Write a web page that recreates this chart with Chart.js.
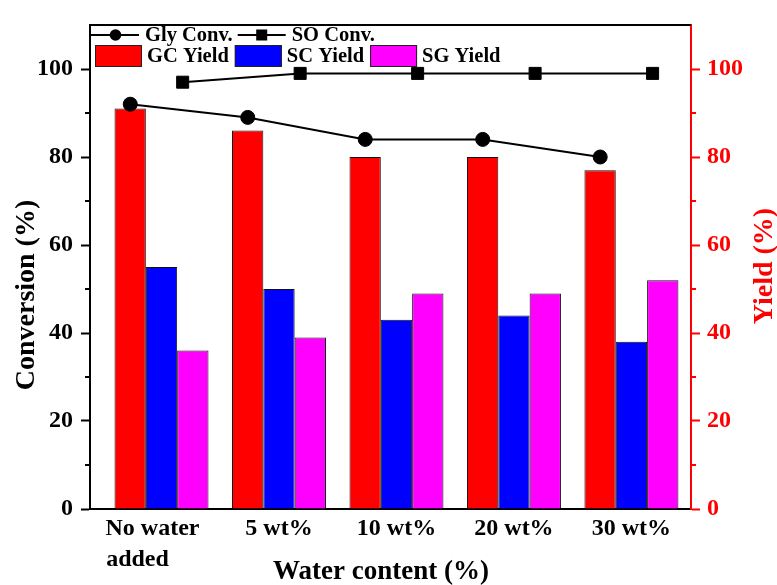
<!DOCTYPE html>
<html><head><meta charset="utf-8">
<script src="https://cdn.jsdelivr.net/npm/chart.js@4/dist/chart.umd.min.js"></script>
<style>html,body{margin:0;padding:0;background:#fff}#wrap{width:777px;height:585px}</style>
</head><body><div id="wrap"><canvas id="c" width="777" height="585"></canvas></div>
<script>
// ---- data ----
const categories = [["No water   ", "added        "], "5 wt%", "10 wt%", "20 wt%", "30 wt%"];
const gcYield = [91, 86, 80, 80, 77];
const scYield = [55, 50, 43, 44, 38];
const sgYield = [36, 39, 49, 49, 52];
const glyConv = [92, 89, 84, 84, 80];
const soConv  = [97, 99, 99, 99, 99];
const yTickValues = [0, 20, 40, 60, 80, 100];
const yMinorValues = [10, 30, 50, 70, 90];

// ---- layout / style constants ----
const GLY_SHIFT = -0.266;   // position of Gly markers within a group (category units)
const SO_SHIFT = 0.18;      // position of SO markers within a group
const FONT = "'Liberation Serif', 'Times New Roman', serif";
const RED = '#ff0000', BLUE = '#0000ff', MAG = '#ff00ff';

const isMajor = v => yTickValues.includes(v);

function barSet(label, data, color) {
  return {
    type: 'bar', label, data: data.map((v, i) => ({x: i, y: v})),
    backgroundColor: color, borderColor: '#111', borderWidth: 1, borderSkipped: 'start',
    categoryPercentage: 0.8, barPercentage: 1.0, yAxisID: 'y1', order: 2
  };
}
function lineSet(label, data, shift, style, radius) {
  return {
    type: 'line', label, data: data.map((v, i) => ({x: i + shift, y: v})),
    borderColor: '#000', borderWidth: 2, backgroundColor: '#000',
    pointStyle: style, pointRadius: radius, pointHoverRadius: radius,
    pointBackgroundColor: '#000', pointBorderColor: '#000', pointBorderWidth: 1,
    tension: 0, fill: false, yAxisID: 'y', order: 0
  };
}

const datasets = [
  barSet('GC Yield', gcYield, RED),
  barSet('SC Yield', scYield, BLUE),
  barSet('SG Yield', sgYield, MAG),
  lineSet('Gly Conv.', glyConv, GLY_SHIFT, 'circle', 7),
  lineSet('SO Conv.', soConv, SO_SHIFT, 'rect', 8.5)
];

const tickFont = {family: FONT, size: 24, weight: 'bold'};

const decorPlugin = {
  id: 'decor',
  afterDraw(chart) {
    const ctx = chart.ctx, a = chart.chartArea;
    ctx.save();
    // top frame line
    ctx.strokeStyle = '#000'; ctx.lineWidth = 2;
    ctx.beginPath(); ctx.moveTo(a.left - 1, a.top); ctx.lineTo(a.right, a.top); ctx.stroke();
    // minor ticks
    const yL = chart.scales.y, yR = chart.scales.y1;
    yMinorValues.forEach(v => {
      let p = yL.getPixelForValue(v);
      ctx.strokeStyle = '#000'; ctx.beginPath(); ctx.moveTo(a.left - 5, p); ctx.lineTo(a.left, p); ctx.stroke();
      p = yR.getPixelForValue(v);
      ctx.strokeStyle = RED; ctx.beginPath(); ctx.moveTo(a.right, p); ctx.lineTo(a.right + 5, p); ctx.stroke();
    });
    // axis titles
    ctx.font = "bold 28px " + FONT;
    ctx.textAlign = 'center'; ctx.textBaseline = 'middle';
    ctx.fillStyle = '#000';
    ctx.save(); ctx.translate(27, 295); ctx.rotate(-Math.PI / 2); ctx.fillText('Conversion (%)', 0, 0); ctx.restore();
    ctx.fillStyle = RED;
    ctx.save(); ctx.translate(765, 266); ctx.rotate(-Math.PI / 2); ctx.fillText('Yield (%)', 0, 0); ctx.restore();
    ctx.fillStyle = '#000'; ctx.font = "bold 27px " + FONT; ctx.textBaseline = 'alphabetic';
    ctx.fillText('Water content (%)', 381, 579);

    // legend (inside plot)
    const ds = chart.data.datasets;
    ctx.font = "bold 20.5px " + FONT; ctx.textAlign = 'left'; ctx.textBaseline = 'middle';
    let x = 91; const y1 = 35;
    [ds[3], ds[4]].forEach(d => {
      ctx.strokeStyle = '#000'; ctx.lineWidth = 2;
      ctx.beginPath(); ctx.moveTo(x, y1); ctx.lineTo(x + 48, y1); ctx.stroke();
      ctx.fillStyle = '#000';
      if (d.pointStyle === 'circle') { ctx.beginPath(); ctx.arc(x + 24.5, y1, 5.8, 0, Math.PI * 2); ctx.fill(); }
      else { ctx.fillRect(x + 24 - 5.5, y1 - 5.5, 11, 11); }
      ctx.fillText(d.label, x + 54, y1 + 1);
      x = x + 54 + ctx.measureText(d.label).width + 5;
    });
    x = 95; const y2 = 56;
    [ds[0], ds[1], ds[2]].forEach(d => {
      ctx.fillStyle = d.backgroundColor; ctx.fillRect(x, y2 - 11, 47, 22);
      ctx.strokeStyle = '#222'; ctx.lineWidth = 1; ctx.strokeRect(x + 0.5, y2 - 10.5, 46, 21);
      ctx.fillStyle = '#000';
      ctx.fillText(d.label, x + 52, y2 + 1);
      x = x + 52 + ctx.measureText(d.label).width + 6;
    });
    ctx.restore();
  }
};

new Chart(document.getElementById('c'), {
  data: {datasets},
  options: {
    responsive: false, animation: false, devicePixelRatio: 1,
    layout: {padding: {top: 25, left: 0, right: 0, bottom: 0}},
    plugins: {legend: {display: false}, tooltip: {enabled: false}, title: {display: false}},
    scales: {
      x: {
        type: 'linear', position: 'bottom', min: -0.6087, max: 4.507, offset: false,
        afterBuildTicks: s => { s.ticks = categories.map((c, i) => ({value: i})); },
        afterFit: s => { s.height = 76; },
        ticks: {callback: v => categories[v], autoSkip: false, maxRotation: 0, minRotation: 0,
                padding: 4, color: '#000', font: {family: FONT, size: 24, weight: 'bold', lineHeight: 1.3}},
        grid: {display: true, drawOnChartArea: false, drawTicks: false, offset: false},
        border: {display: true, color: '#000', width: 2}
      },
      y: {
        type: 'linear', position: 'left', min: 0, max: 110,
        afterFit: s => { s.width = 90; },
        ticks: {stepSize: 10, autoSkip: false, padding: 8, color: '#000', font: tickFont,
                callback: v => isMajor(v) ? String(v) : ''},
        grid: {drawOnChartArea: false, drawTicks: true, tickLength: 9, tickWidth: 2,
               tickColor: c => (c.tick && isMajor(c.tick.value)) ? '#000' : 'rgba(0,0,0,0)'},
        border: {display: true, color: '#000', width: 2}
      },
      y1: {
        type: 'linear', position: 'right', min: 0, max: 110,
        afterFit: s => { s.width = 86; },
        ticks: {stepSize: 10, autoSkip: false, padding: 7, color: RED, font: tickFont,
                callback: v => isMajor(v) ? String(v) : ''},
        grid: {drawOnChartArea: false, drawTicks: true, tickLength: 9, tickWidth: 2,
               tickColor: c => (c.tick && isMajor(c.tick.value)) ? RED : 'rgba(255,0,0,0)'},
        border: {display: true, color: RED, width: 2}
      }
    }
  },
  plugins: [decorPlugin]
});
</script>
</body></html>
